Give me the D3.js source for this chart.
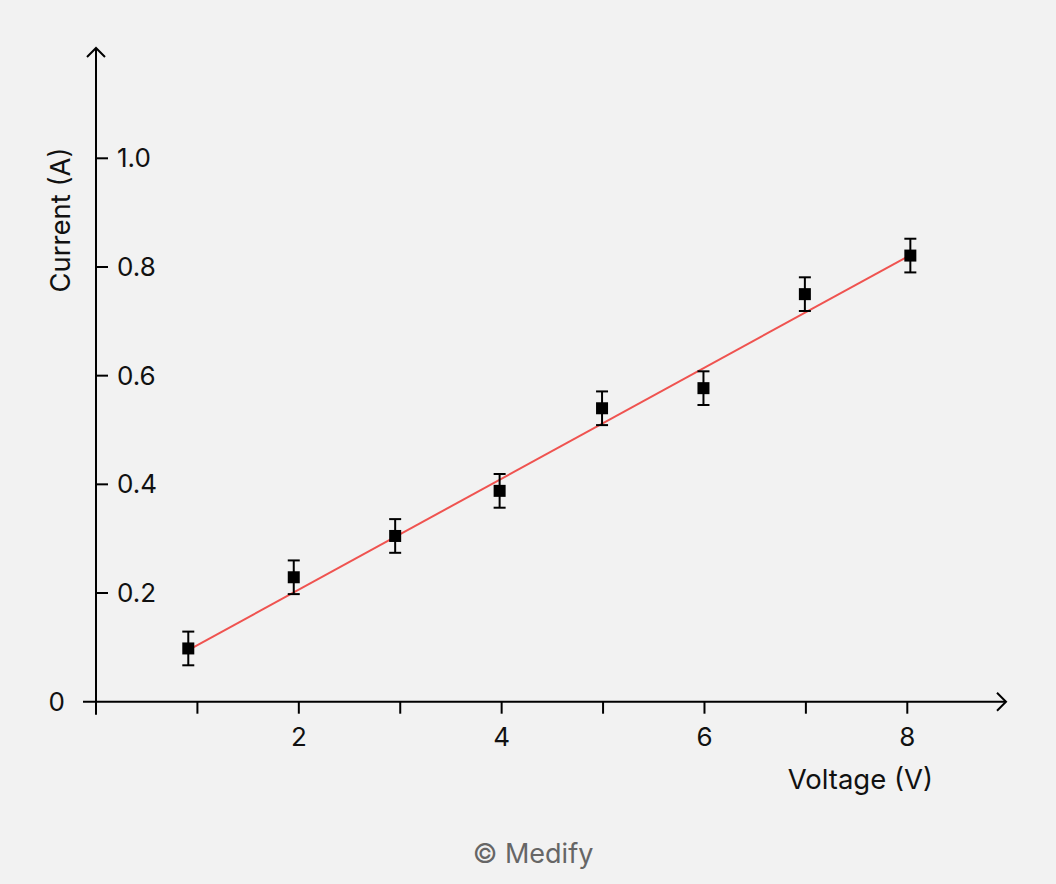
<!DOCTYPE html>
<html>
<head>
<meta charset="utf-8">
<script src="https://cdn.jsdelivr.net/npm/d3@7"></script>
<style>
  html, body { margin: 0; padding: 0; background: #f2f2f2; }
  svg { display: block; font-family: Inter, "Noto Sans", sans-serif; }
</style>
</head>
<body>
<svg width="1056" height="884"></svg>
<script>
// measured values
const voltage = [0.91, 1.95, 2.95, 3.98, 4.99, 5.99, 6.99, 8.03];
const current = [0.098, 0.229, 0.305, 0.388, 0.540, 0.577, 0.750, 0.821];
const currentErr = [0.031, 0.031, 0.031, 0.031, 0.031, 0.031, 0.031, 0.031];
// best fit line end points [V, A]
const fitLine = [[0.91, 0.095], [8.03, 0.822]];
const xTicks = [1, 2, 3, 4, 5, 6, 7, 8];
const xTickLabels = ['', '2', '', '4', '', '6', '', '8'];
const yTicks = [0.2, 0.4, 0.6, 0.8, 1.0];

const svg = d3.select('svg');

const x = d3.scaleLinear().domain([0, 8]).range([96, 907.3]);
const y = d3.scaleLinear().domain([0, 1]).range([701.7, 158.3]);
const x0 = x(0), y0 = y(0);
const xEnd = 1006, yTop = 48;

const ax = svg.append('g').attr('stroke', '#000').attr('stroke-width', 2).attr('fill', 'none');

// x axis line + arrow
ax.append('line').attr('x1', 83).attr('x2', xEnd).attr('y1', y0).attr('y2', y0);
ax.append('path').attr('d', `M${xEnd - 9},${y0 - 9}L${xEnd},${y0}L${xEnd - 9},${y0 + 9}`);
// y axis line + arrow (extends below origin as the 0 tick)
ax.append('line').attr('x1', x0).attr('x2', x0).attr('y1', y0 + 13).attr('y2', yTop);
ax.append('path').attr('d', `M${x0 - 9},${yTop + 9}L${x0},${yTop}L${x0 + 9},${yTop + 9}`);

// x ticks (outward)
ax.selectAll('.xt').data(xTicks).join('line')
  .attr('x1', d => x(d)).attr('x2', d => x(d))
  .attr('y1', y0).attr('y2', y0 + 12);
// y ticks (inward)
ax.selectAll('.yt').data(yTicks).join('line')
  .attr('x1', x0).attr('x2', x0 + 12)
  .attr('y1', d => y(d)).attr('y2', d => y(d));

const txt = svg.append('g').attr('fill', '#111').attr('font-size', 26);

txt.selectAll('.xl').data(xTicks).join('text')
  .attr('x', d => x(d)).attr('y', y0 + 44)
  .attr('text-anchor', 'middle')
  .text((d, i) => xTickLabels[i]);

txt.selectAll('.yl').data(yTicks).join('text')
  .attr('x', x0 + 21).attr('y', d => y(d))
  .attr('dy', '0.35em')
  .text(d => d3.format('.1f')(d));

txt.append('text').attr('x', 65).attr('y', y0).attr('dy', '0.35em')
  .attr('text-anchor', 'end').text('0');

txt.append('text').attr('x', 933).attr('y', 789)
  .attr('text-anchor', 'end').attr('font-size', 27.5).text('Voltage (V)');

txt.append('text')
  .attr('transform', 'translate(70,220) rotate(-90)')
  .attr('text-anchor', 'middle').attr('font-size', 27.5).text('Current (A)');

// fit line
svg.append('line')
  .attr('x1', x(fitLine[0][0])).attr('y1', y(fitLine[0][1]))
  .attr('x2', x(fitLine[1][0])).attr('y2', y(fitLine[1][1]))
  .attr('stroke', '#ef5350').attr('stroke-width', 2);

// error bars
const pts = voltage.map((v, i) => ({ v, c: current[i], e: currentErr[i] }));
const eb = svg.append('g').attr('stroke', '#000').attr('stroke-width', 2);
pts.forEach(p => {
  const g = eb.append('g');
  g.append('line').attr('x1', x(p.v)).attr('x2', x(p.v))
    .attr('y1', y(p.c - p.e)).attr('y2', y(p.c + p.e));
  [p.c - p.e, p.c + p.e].forEach(cv => {
    g.append('line').attr('x1', x(p.v) - 6).attr('x2', x(p.v) + 6)
      .attr('y1', y(cv)).attr('y2', y(cv));
  });
});

// markers
svg.append('g').selectAll('rect').data(pts).join('rect')
  .attr('x', d => x(d.v) - 6).attr('y', d => y(d.c) - 6)
  .attr('width', 12).attr('height', 12)
  .attr('fill', '#000');

svg.append('text').attr('x', 533).attr('y', 863)
  .attr('text-anchor', 'middle').attr('font-size', 27)
  .attr('fill', '#666').text('© Medify');
</script>
</body>
</html>
